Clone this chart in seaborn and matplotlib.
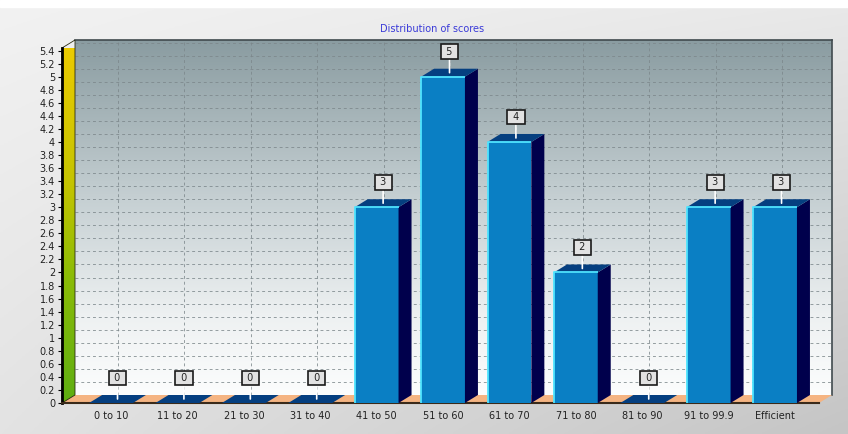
import numpy as np
import pandas as pd
import seaborn as sns
import matplotlib
matplotlib.use('Agg')
import matplotlib.pyplot as plt
from matplotlib.patches import Polygon
from matplotlib.colors import LinearSegmentedColormap

# data
categories = ['0 to 10', '11 to 20', '21 to 30', '31 to 40', '41 to 50', '51 to 60',
              '61 to 70', '71 to 80', '81 to 90', '91 to 99.9', 'Efficient']
counts = [0, 0, 0, 0, 3, 5, 4, 2, 0, 3, 3]
y_ticks = np.round(np.arange(0, 5.41, 0.2), 1)
title = 'Distribution of scores'

scores = pd.DataFrame({'range': categories, 'count': counts})

W, H = 848, 434
DEPTH_X, DEPTH_Y = 13, 8  # fake 3d depth in pixels
XLIM = (-0.738, 10.662)
YTOP = 5.44

sns.set_theme(style='white')
plt.rcParams['font.family'] = ['DejaVu Sans']

fig = plt.figure(figsize=(W / 100, H / 100), dpi=100)


def px_box(left, top, right, bottom):
    return [left / W, 1 - bottom / H, (right - left) / W, (bottom - top) / H]


# page background, light grey gradient
bg = fig.add_axes([0, 0, 1, 1], zorder=-10)
bg.set_axis_off()
yy, xx = np.mgrid[0:1:200j, 0:1:200j]
shade = (242 - 15 * yy - 30 * xx * (0.3 + 0.7 * yy)) / 255
bg.imshow(np.dstack([shade] * 3), extent=[0, 1, 0, 1], aspect='auto', origin='upper')
bg.axhspan(1 - 7 / H, 1, color='white')
bg.set_xlim(0, 1)
bg.set_ylim(0, 1)

# back wall with grid
wall = fig.add_axes(px_box(75, 40, 832, 395), zorder=0)
wall_cmap = LinearSegmentedColormap.from_list(
    'wall', [(0, '#fcfdfd'), (0.22, '#eef1f2'), (0.55, '#c6d0d3'), (1, '#8a9ca1')])
grad = np.linspace(0, 1, 256).reshape(-1, 1)
wall.imshow(grad, extent=[XLIM[0], XLIM[1], 0, YTOP], aspect='auto', origin='lower',
            cmap=wall_cmap, zorder=0)
wall.set_xlim(XLIM)
wall.set_ylim(0, YTOP)
wall.set_yticks(y_ticks)
wall.set_xticks(np.arange(len(categories)) - 0.09)
wall.grid(True, color='#7c878b', linestyle=(0, (3, 3)), linewidth=0.7, alpha=0.8)
wall.tick_params(length=0, labelleft=False, labelbottom=False)
for side in ['left', 'bottom']:
    wall.spines[side].set_visible(False)
for side in ['top', 'right']:
    wall.spines[side].set_color('#404a4e')
    wall.spines[side].set_linewidth(1.2)

# front plane with the bars
ax = fig.add_axes(px_box(62, 48, 819, 403), zorder=2)
ax.patch.set_alpha(0)
sns.barplot(data=scores, x='range', y='count', color='#0a7fc4', width=0.66,
            saturation=1, ax=ax, zorder=3)
ax.set_xlim(XLIM)
ax.set_ylim(0, YTOP)

ddx = DEPTH_X * (XLIM[1] - XLIM[0]) / (819 - 62)
ddy = DEPTH_Y * YTOP / (403 - 48)

# floor
floor = Polygon([(XLIM[0], 0), (XLIM[1], 0), (XLIM[1] + ddx, ddy), (XLIM[0] + ddx, ddy)],
                closed=True, fc='#f5b482', ec='none', zorder=1, clip_on=False)
ax.add_patch(floor)

# left wall, yellow to green
lwall = Polygon([(XLIM[0], 0), (XLIM[0] + ddx, ddy), (XLIM[0] + ddx, YTOP + ddy), (XLIM[0], YTOP)],
                closed=True, fc='none', ec='#2a2a10', lw=0.6, zorder=2, clip_on=False)
ax.add_patch(lwall)
lw_cmap = LinearSegmentedColormap.from_list(
    'lwall', [(0, '#5eae12'), (0.35, '#8cbc06'), (0.6, '#c4c400'), (1, '#eecb00')])
im = ax.imshow(grad, extent=[XLIM[0], XLIM[0] + ddx, 0, YTOP + ddy], aspect='auto',
               origin='lower', cmap=lw_cmap, zorder=1.5)
im.set_clip_path(lwall)
ax.set_xlim(XLIM)
ax.set_ylim(0, YTOP)

# 3d sides, tops, highlights and value labels
for p, v in zip(ax.patches[:len(counts)], counts):
    x0, w, h = p.get_x(), p.get_width(), p.get_height()
    p.set_edgecolor('none')
    ax.add_patch(Polygon([(x0 + w, 0), (x0 + w + ddx, ddy), (x0 + w + ddx, h + ddy), (x0 + w, h)],
                         closed=True, fc='#00004c', ec='none', zorder=3, clip_on=False))
    ax.add_patch(Polygon([(x0, h), (x0 + ddx, h + ddy), (x0 + w + ddx, h + ddy), (x0 + w, h)],
                         closed=True, fc='#053f80', ec='none', zorder=3, clip_on=False))
    if h > 0:
        ax.plot([x0, x0, x0 + w], [0, h, h], color='#4fe4ff', lw=1.3, zorder=4,
                solid_capstyle='butt', clip_on=False)
    ax.annotate(f' {v} ', xy=(x0 + w / 2 + ddx / 2, h + ddy / 2), xytext=(0, 21),
                textcoords='offset pixels', ha='center', va='center', fontsize=7,
                color='#222222', zorder=6, annotation_clip=False,
                bbox=dict(boxstyle='square,pad=0.25', fc='#e2e2e2', ec='#1a1a1a', lw=1.2),
                arrowprops=dict(arrowstyle='-', color='white', lw=1.2, shrinkA=0, shrinkB=0))

ax.set_yticks(y_ticks)
ax.set_yticklabels([f'{t:g}' for t in y_ticks])
ax.set_xlabel('')
ax.set_ylabel('')
ax.tick_params(axis='y', direction='out', length=3, width=0.8, color='black',
               labelsize=7, labelcolor='#222222', pad=2, left=True)
ax.tick_params(axis='x', length=0, labelsize=7, labelcolor='#222222', pad=6)
for side in ['top', 'right']:
    ax.spines[side].set_visible(False)
ax.spines['left'].set_color('black')
ax.spines['left'].set_linewidth(2)
ax.spines['bottom'].set_color('#3a2a1a')
ax.spines['bottom'].set_linewidth(1.5)

fig.text(432 / W, 1 - 29 / H, title, color='#3a3ad8', fontsize=7, ha='center', va='center')

fig.savefig('out.png', dpi=100)
